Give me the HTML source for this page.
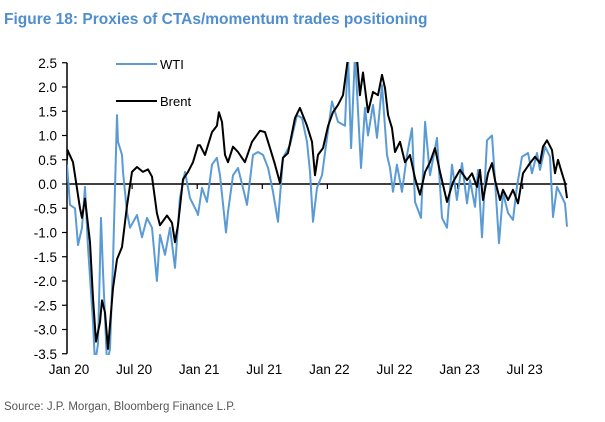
<!DOCTYPE html>
<html><head><meta charset="utf-8"><style>
body{margin:0;background:#fff;width:605px;height:422px;overflow:hidden;font-family:"Liberation Sans",Arial,sans-serif}
svg{position:absolute;left:0;top:0}
</style></head><body>
<svg width="605" height="422">
<text x="4" y="24" font-size="15.5" font-weight="bold" fill="#4f8ed0">Figure 18: Proxies of CTAs/momentum trades positioning</text>
<text x="4" y="410" font-size="11.5" fill="#555">Source: J.P. Morgan, Bloomberg Finance L.P.</text>
<defs><clipPath id="pc"><rect x="67" y="62" width="510" height="293"/></clipPath></defs>
<g id="axes"></g>
<g id="series" clip-path="url(#pc)"></g>
<g>
<line x1="116" y1="64" x2="157" y2="64" stroke="#5b9bd5" stroke-width="2"/>
<text x="160" y="69" font-size="13">WTI</text>
<line x1="116" y1="101" x2="157" y2="101" stroke="#000" stroke-width="2"/>
<text x="160" y="106" font-size="13">Brent</text>
</g>
</svg>
<script>
const yTicks=["2.5","2.0","1.5","1.0","0.5","0.0","-0.5","-1.0","-1.5","-2.0","-2.5","-3.0","-3.5"];
const xLabels=["Jan 20","Jul 20","Jan 21","Jul 21","Jan 22","Jul 22","Jan 23","Jul 23"];
const xLabelMonths=[0,6,12,18,24,30,36,42];
const brentMonths=[0,0.05,0.55,1.2,1.38,1.66,2.12,2.4,2.67,3.04,3.23,3.5,3.78,4.24,4.61,5.07,5.53,5.99,6.45,7.0,7.47,7.83,8.29,8.57,9.22,9.68,9.95,10.23,10.69,11.15,11.61,12.07,
12.26,12.72,13.36,13.82,14.0,14.29,14.56,14.84,15.3,15.76,16.4,17.05,17.79,18.25,18.71,19.17,19.63,19.91,20.37,21.01,21.47,22.12,22.58,22.86,23.13,23.59,24.06,24.52,
24.98,25.44,25.9,26.27,26.73,27.0,27.28,27.74,28.2,28.66,29.03,29.31,29.59,29.95,30.23,30.69,31.15,31.61,32.07,32.53,33.0,33.46,33.92,34.38,35.02,35.58,
36.22,36.87,37.33,37.79,38.06,38.34,38.8,39.17,39.45,39.91,40.18,40.65,41.11,41.57,42.03,42.67,43.13,43.59,43.87,44.24,44.7,44.98,45.25,45.62,45.9,46.08];
const brentValues=[0.5,0.7,0.45,-0.5,-0.7,-0.3,-1.2,-2.35,-3.25,-2.85,-2.4,-2.65,-3.4,-2.15,-1.55,-1.3,-0.45,0.25,0.35,0.25,0.3,0.15,-0.6,-0.85,-0.65,-0.8,-1.2,-0.85,0.1,0.25,0.45,0.8,
0.8,0.6,1.07,1.2,1.48,1.28,0.6,0.45,0.77,0.66,0.45,0.87,1.1,1.07,0.74,0.4,0.02,0.54,0.64,1.36,1.57,1.2,0.87,0.18,0.6,0.74,1.2,1.48,
1.63,1.83,2.6,2.7,2.6,1.83,2.3,1.48,1.9,1.83,2.25,1.98,1.42,1.15,0.66,0.87,0.45,0.6,0.12,-0.22,0.25,0.45,0.74,0.25,-0.37,0.04,
0.29,0.08,0.22,-0.06,0.29,-0.33,0.22,0.43,0.08,-0.33,-0.12,-0.33,-0.12,-0.4,0.22,0.43,0.56,0.43,0.77,0.9,0.7,0.22,0.5,0.22,0.02,-0.29];
const wtiMonths=[0,0.28,0.74,1.01,1.38,1.66,1.94,2.4,2.58,2.86,3.04,3.13,3.32,3.69,3.96,4.24,4.61,4.7,5.07,5.16,5.53,5.81,6.45,6.91,7.37,7.83,8.29,8.57,9.03,9.49,9.95,10.41,10.88,11.34,11.98,
12.07,12.44,12.9,13.36,13.82,14.1,14.65,14.84,15.3,15.76,16.22,16.59,17.14,17.6,18.06,18.53,18.99,19.45,19.91,20.55,21.2,21.66,22.12,22.4,22.67,23.04,23.5,23.96,24.42,
24.98,25.62,25.9,26.18,26.54,27.1,27.47,27.74,28.2,28.57,29.03,29.49,29.77,30.05,30.41,30.88,31.34,31.8,32.07,32.63,33.0,33.46,34.1,34.56,35.02,35.48,
35.94,36.41,36.87,37.14,37.6,37.88,38.25,38.71,39.17,39.45,39.82,40.18,40.65,41.11,41.47,41.94,42.49,42.86,43.32,43.59,44.06,44.52,44.79,45.16,45.62,45.9,46.08];
const wtiValues=[0.4,-0.43,-0.5,-1.26,-0.9,-0.06,-1.3,-2.85,-3.7,-3.3,-1.6,-0.7,-1.8,-3.7,-3.4,-1.6,1.42,0.87,0.6,0.25,-0.58,-0.9,-0.64,-1.1,-0.7,-0.9,-2.0,-1.05,-1.46,-0.9,-1.73,-0.29,0.25,-0.29,-0.58,
-0.64,-0.08,-0.37,0.4,0.54,0.18,-1.0,-0.58,0.18,0.33,-0.08,-0.43,0.6,0.66,0.6,0.33,-0.16,-0.78,0.54,0.8,1.42,1.36,0.87,0.25,-0.78,-0.08,0.18,0.95,1.7,
1.28,1.2,2.7,0.74,2.7,0.33,1.57,1.0,1.63,0.95,2.04,0.6,0.33,-0.16,0.4,-0.16,0.6,1.15,-0.37,-0.7,1.28,0.18,0.95,-0.7,-0.9,0.4,
-0.33,0.43,-0.4,0.08,-0.47,0.29,-1.1,0.9,1.0,0.08,-1.22,-0.18,-0.6,-0.74,-0.06,0.56,0.64,0.22,0.64,0.29,0.77,0.56,-0.68,-0.06,-0.27,-0.4,-0.88];

const X0=67,XPM=10.85,Y0=184,YPU=48.5;
const xs=m=>X0+m*XPM, ys=v=>Y0-v*YPU;
const NS="http://www.w3.org/2000/svg";
const axes=document.getElementById('axes'), ser=document.getElementById('series');
function mk(tag,at,par){const e=document.createElementNS(NS,tag);for(const k in at)e.setAttribute(k,at[k]);par.appendChild(e);return e;}
const yl=mk('line',{x1:X0,y1:ys(2.5),x2:X0,y2:ys(-3.5),stroke:'#000','stroke-width':1.5},axes);


yTicks.forEach(t=>{const v=parseFloat(t);
 const tk=mk('line',{x1:X0-5,y1:ys(v),x2:X0,y2:ys(v),stroke:'#000','stroke-width':1.2},axes);
 
 
 const tx=mk('text',{x:X0-10,y:ys(v)+5,'font-size':13.5,'text-anchor':'end'},axes);tx.textContent=t;
 
 
});
const zl=mk('line',{x1:X0,y1:ys(0),x2:xs(46.1),y2:ys(0),stroke:'#000','stroke-width':1.5},axes);


xLabels.forEach((l,i)=>{const m=xLabelMonths[i];
 if(i>0){const tk=mk('line',{x1:xs(m),y1:ys(0),x2:xs(m),y2:ys(0)+5,stroke:'#000','stroke-width':1.2},axes);
 
 }
 const tx=mk('text',{x:xs(m)+2,y:374,'font-size':13.5,'text-anchor':'middle'},axes);tx.textContent=l;
 
 
});
function path(ms,vs){const n=Math.min(ms.length,vs.length);let d='';for(let i=0;i<n;i++)d+=(i?'L':'M')+xs(ms[i]).toFixed(1)+','+ys(vs[i]).toFixed(1);return d;}
const w=mk('path',{d:path(wtiMonths,wtiValues),fill:'none',stroke:'#5b9bd5','stroke-width':2,'stroke-linejoin':'round'},ser);


const b=mk('path',{d:path(brentMonths,brentValues),fill:'none',stroke:'#000','stroke-width':2,'stroke-linejoin':'round'},ser);


</script>
</body></html>
